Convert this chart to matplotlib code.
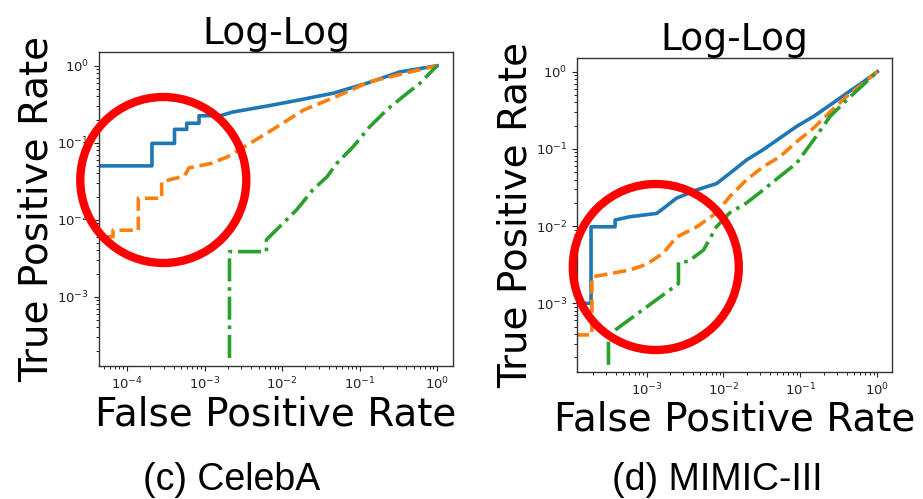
import matplotlib
matplotlib.use("Agg")
import matplotlib.pyplot as plt
from matplotlib.patches import Ellipse

# ---------------- data ----------------
titles = ["Log-Log", "Log-Log"]
captions = ["(c) CelebA", "(d) MIMIC-III"]
xlabel = "False Positive Rate"
ylabel = "True Positive Rate"

# CelebA
celeba_blue_fpr = [4.0e-5, 2.1e-4, 2.1e-4, 4.1e-4, 4.1e-4, 5.9e-4, 5.9e-4, 8.5e-4, 8.5e-4,
                   1.6e-3, 2.3e-3, 6.5e-3, 1.7e-2, 4.6e-2, 0.123, 0.33, 1.0]
celeba_blue_tpr = [0.05, 0.05, 0.098, 0.098, 0.149, 0.149, 0.179, 0.179, 0.224,
                   0.224, 0.25, 0.30, 0.36, 0.44, 0.59, 0.83, 1.0]
celeba_orange_fpr = [5.5e-5, 6.6e-5, 6.6e-5, 1.4e-4, 1.4e-4, 2.8e-4, 2.8e-4, 5.5e-4, 6.3e-4,
                     1.23e-3, 2.0e-3, 3.3e-3, 7.4e-3, 0.019, 0.051, 0.136, 0.367, 1.0]
celeba_orange_tpr = [0.006, 0.006, 0.0073, 0.0073, 0.019, 0.019, 0.031, 0.037, 0.047,
                     0.054, 0.066, 0.089, 0.146, 0.266, 0.40, 0.62, 0.79, 1.0]
celeba_green_fpr = [2.1e-3, 2.1e-3, 6.3e-3, 6.3e-3, 9.3e-3, 0.0155, 0.025, 0.038, 0.051,
                    0.083, 0.136, 0.224, 0.367, 0.60, 1.0]
celeba_green_tpr = [1.6e-4, 3.85e-3, 3.85e-3, 5.5e-3, 8.1e-3, 0.0135, 0.0245, 0.036, 0.054,
                    0.089, 0.162, 0.266, 0.40, 0.59, 1.0]

# MIMIC-III
mimic_blue_fpr = [1.2e-4, 1.9e-4, 1.9e-4, 3.9e-4, 3.9e-4, 6.0e-4, 1.35e-3, 1.66e-3, 2.45e-3,
                  4.5e-3, 8.1e-3, 0.012, 0.020, 0.033, 0.054, 0.089, 0.148, 0.243, 0.40, 0.66, 1.0]
mimic_blue_tpr = [0.001, 0.001, 0.0098, 0.0098, 0.012, 0.0132, 0.0146, 0.017, 0.023,
                  0.0295, 0.0355, 0.048, 0.072, 0.098, 0.138, 0.195, 0.263, 0.37, 0.525, 0.74, 1.0]
mimic_orange_fpr = [1.2e-4, 1.95e-4, 1.95e-4, 6.0e-4, 1.0e-3, 1.66e-3, 2.45e-3, 4.5e-3, 8.1e-3,
                    0.012, 0.020, 0.033, 0.054, 0.089, 0.148, 0.243, 0.40, 0.66, 1.0]
mimic_orange_tpr = [3.9e-4, 3.9e-4, 2.2e-3, 2.7e-3, 3.2e-3, 4.5e-3, 7.2e-3, 9.8e-3, 0.0148,
                    0.024, 0.040, 0.059, 0.079, 0.123, 0.186, 0.30, 0.48, 0.71, 1.0]
mimic_green_fpr = [3.2e-4, 3.2e-4, 2.6e-3, 2.6e-3, 3.5e-3, 5.5e-3, 8.1e-3, 0.012, 0.020,
                   0.033, 0.054, 0.089, 0.148, 0.243, 0.40, 0.66, 1.0]
mimic_green_tpr = [1.6e-4, 3.9e-4, 1.8e-3, 3.4e-3, 3.5e-3, 4.9e-3, 9.8e-3, 0.0148, 0.020,
                   0.0295, 0.044, 0.065, 0.130, 0.263, 0.43, 0.68, 1.0]

# ---------------- figure ----------------
W, H = 923, 499
fig = plt.figure(figsize=(W / 100, H / 100), dpi=100)

def px_rect(l, t, r, b):
    return [l / W, 1 - b / H, (r - l) / W, (b - t) / H]

ax1 = fig.add_axes(px_rect(98.7, 52, 453, 366))
ax2 = fig.add_axes(px_rect(577.3, 57.7, 891.7, 371.7))

blue, orange, green = "#1f77b4", "#ff7f0e", "#2ca02c"
lw = 2.6

def draw(ax, bx, by, ox, oy, gx, gy, xlim, ylim, title):
    ax.plot(bx, by, color=blue, lw=lw, ls="-")
    ax.plot(ox, oy, color=orange, lw=lw, ls="--")
    ax.plot(gx, gy, color=green, lw=lw, ls="-.")
    ax.set_xscale("log")
    ax.set_yscale("log")
    ax.set_xlim(*xlim)
    ax.set_ylim(*ylim)
    ax.set_title(title, fontsize=27, pad=1)
    ax.set_xlabel(xlabel, fontsize=28, labelpad=2)
    ax.set_ylabel(ylabel, fontsize=28, labelpad=1)
    ax.tick_params(labelsize=9.5, colors="#222222")
    for s in ax.spines.values():
        s.set_color("#333333")
        s.set_linewidth(1.0)

draw(ax1, celeba_blue_fpr, celeba_blue_tpr, celeba_orange_fpr, celeba_orange_tpr,
     celeba_green_fpr, celeba_green_tpr,
     (10 ** -4.365, 10 ** 0.206), (10 ** -3.9, 10 ** 0.178), titles[0])
draw(ax2, mimic_blue_fpr, mimic_blue_tpr, mimic_orange_fpr, mimic_orange_tpr,
     mimic_green_fpr, mimic_green_tpr,
     (10 ** -3.90, 10 ** 0.187), (10 ** -3.885, 10 ** 0.181), titles[1])

# red highlight circles
for cx, cy, r in [(163.3, 180, 83), (655.8, 267, 83)]:
    fig.add_artist(Ellipse((cx / W, 1 - cy / H), 2 * r / W, 2 * r / H,
                           transform=fig.transFigure, fill=False,
                           edgecolor="#ff0000", lw=6, clip_on=False, zorder=10))

# captions
fig.text(231.7 / W, 1 - 480 / H, captions[0], fontsize=27, ha="center", va="center",
         family="Liberation Sans")
fig.text(717 / W, 1 - 480 / H, captions[1], fontsize=27, ha="center", va="center",
         family="Liberation Sans")

fig.savefig("out.png", dpi=100)
